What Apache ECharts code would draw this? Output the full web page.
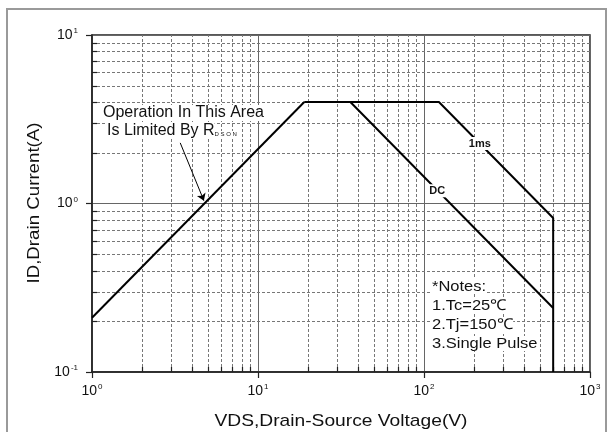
<!DOCTYPE html>
<html>
<head>
<meta charset="utf-8">
<style>
  html, body { margin: 0; padding: 0; background: #fff; }
  #main { width: 614px; height: 432px; }
</style>
<script src="https://cdn.jsdelivr.net/npm/echarts@6/dist/echarts.min.js"></script>
</head>
<body>
<div id="main"></div>
<script>
// SOA curve (V, A)
var rdsV = [1, 19]
var rdsI = [0.21, 4]
var dcV = [19, 36, 600]
var dcI = [4, 4, 0.24]
var msV = [36, 123, 600, 600]
var msI = [4, 4, 0.82, 0.1]

// axis ranges and minor grid steps
var xRange = [1, 1000]
var yRange = [0.1, 10]
var xDecades = [1, 10, 100]
var yDecades = [0.1, 1]
var mantissa = [2, 3, 4, 5, 6, 7, 8, 9]

var xMinor = []
xDecades.forEach(function (d) { mantissa.forEach(function (m) { xMinor.push([d * m, yRange[0]]) }) })
var yMinor = []
yDecades.forEach(function (d) { mantissa.forEach(function (m) { yMinor.push([xRange[0], +(d * m).toFixed(2)]) }) })

function pts(xs, ys) {
  return xs.map(function (x, i) { return [x, ys[i]] })
}

var font = '"Liberation Sans", Arial, sans-serif'

function powLabel(v) {
  var e = Math.round(Math.log10(v))
  return '{b|10}{s|' + e + '}'
}
var powRich = {
  b: { fontSize: 14, lineHeight: 16, color: '#111', fontFamily: font },
  s: { fontSize: 8, lineHeight: 16, verticalAlign: 'top', color: '#111', fontFamily: font, padding: [0, 0, 0, 1] }
}

function crisp(v) { return Math.round(v) + 0.5 }

function minorX(params, api) {
  var b = api.coord([api.value(0), yRange[0]])
  var t = api.coord([api.value(0), yRange[1]])
  var x = crisp(b[0])
  return {
    type: 'group',
    children: [
      { type: 'line', shape: { x1: x, y1: b[1], x2: x, y2: t[1] }, style: { stroke: '#777', lineWidth: 1, lineDash: [3, 2] } },
      { type: 'line', shape: { x1: x, y1: b[1], x2: x, y2: b[1] - 5 }, style: { stroke: '#222', lineWidth: 1.2 } }
    ]
  }
}

function minorY(params, api) {
  var l = api.coord([xRange[0], api.value(1)])
  var r = api.coord([xRange[1], api.value(1)])
  var y = crisp(l[1])
  return {
    type: 'group',
    children: [
      { type: 'line', shape: { x1: l[0], y1: y, x2: r[0], y2: y }, style: { stroke: '#777', lineWidth: 1, lineDash: [3, 2] } },
      { type: 'line', shape: { x1: l[0], y1: y, x2: l[0] + 5, y2: y }, style: { stroke: '#222', lineWidth: 1.2 } }
    ]
  }
}

var curve = { color: '#000', width: 2 }
var tagLabel = {
  show: true, position: 'inside', color: '#111',
  fontSize: 11, fontWeight: 'bold', fontFamily: font
}

var myChart = echarts.init(document.getElementById('main'))
var option = {
  animation: false,
  backgroundColor: '#fff',
  grid: {
    left: 92, right: 24, top: 35, bottom: 60,
    show: true, borderColor: '#222', borderWidth: 1.5
  },
  xAxis: {
    type: 'log', logBase: 10, min: xRange[0], max: xRange[1], splitNumber: 3,
    axisLine: { show: true, lineStyle: { color: '#222', width: 1.5 } },
    axisTick: { show: true, inside: false, length: 6, lineStyle: { color: '#222', width: 1.2 } },
    axisLabel: { margin: 11, formatter: powLabel, rich: powRich },
    splitLine: { show: true, lineStyle: { color: '#666', width: 1 } }
  },
  yAxis: {
    type: 'log', logBase: 10, min: yRange[0], max: yRange[1], splitNumber: 2,
    axisLine: { show: true, lineStyle: { color: '#222', width: 1.5 } },
    axisTick: { show: true, inside: false, length: 6, lineStyle: { color: '#222', width: 1.2 } },
    axisLabel: { margin: 14, formatter: powLabel, rich: powRich },
    splitLine: { show: true, lineStyle: { color: '#666', width: 1 } }
  },
  series: [
    { type: 'custom', z: 1, silent: true, clip: false, renderItem: minorX, data: xMinor },
    { type: 'custom', z: 1, silent: true, clip: false, renderItem: minorY, data: yMinor },
    {
      name: 'RDS(on) limit', type: 'line', z: 3, symbol: 'none', lineStyle: curve,
      data: pts(rdsV, rdsI),
      markLine: {
        silent: true, symbol: ['none', 'arrow'], symbolSize: 7,
        label: { show: false },
        lineStyle: { color: '#000', width: 1, type: 'solid' },
        data: [[{ coord: [3.4, 2.29] }, { coord: [4.72, 1.04] }]]
      }
    },
    {
      name: 'DC', type: 'line', z: 3, symbol: 'none', lineStyle: curve,
      data: pts(dcV, dcI),
      markPoint: {
        silent: true, symbol: 'rect', symbolSize: [19, 13],
        itemStyle: { color: '#fff' },
        label: Object.assign({ formatter: 'DC' }, tagLabel),
        data: [{ coord: [120, 1.19] }]
      }
    },
    {
      name: '1ms', type: 'line', z: 3, symbol: 'none', lineStyle: curve,
      data: pts(msV, msI),
      markPoint: {
        silent: true, symbol: 'rect', symbolSize: [24, 13],
        itemStyle: { color: '#fff' },
        label: Object.assign({ formatter: '1ms' }, tagLabel),
        data: [{ coord: [217, 2.27] }]
      }
    }
  ],
  graphic: [
    {
      type: 'rect', silent: true, z: 0,
      shape: { x: 7, y: 9, width: 599, height: 440 },
      style: { fill: 'none', stroke: '#9a9a9a', lineWidth: 2 }
    },
    {
      type: 'text', x: 103, y: 113, z: 10,
      style: { text: 'Operation In This Area', font: '16px ' + font, fill: '#111', verticalAlign: 'middle', backgroundColor: '#fff' }
    },
    {
      type: 'text', x: 107, y: 131, z: 10,
      style: {
        text: '{a|Is Limited By R}{s|D S O N}',
        verticalAlign: 'middle',
        rich: {
          a: { font: '16px ' + font, fill: '#111', backgroundColor: '#fff' },
          s: { font: '6px ' + font, fill: '#111', verticalAlign: 'bottom', backgroundColor: '#fff', padding: [0, 0, 2, 0] }
        }
      }
    },
    {
      type: 'text', x: 432, y: 277, z: 10, scaleX: 1.1,
      style: {
        text: '{n|*Notes:}\n{n|1.Tc=25℃}\n{n|2.Tj=150℃}\n{n|3.Single Pulse}',
        rich: {
          n: { font: '15px ' + font, fill: '#111', lineHeight: 19, backgroundColor: '#fff' }
        }
      }
    },
    {
      type: 'text', x: 341, y: 421, z: 10, scaleX: 1.13,
      style: { text: 'VDS,Drain-Source Voltage(V)', font: '17px ' + font, fill: '#111', align: 'center', verticalAlign: 'middle' }
    },
    {
      type: 'text', x: 34, y: 203, z: 10, rotation: Math.PI / 2, scaleX: 1.1,
      style: { text: 'ID,Drain Current(A)', font: '17px ' + font, fill: '#111', align: 'center', verticalAlign: 'middle' }
    }
  ]
}
myChart.setOption(option)
</script>
</body>
</html>
